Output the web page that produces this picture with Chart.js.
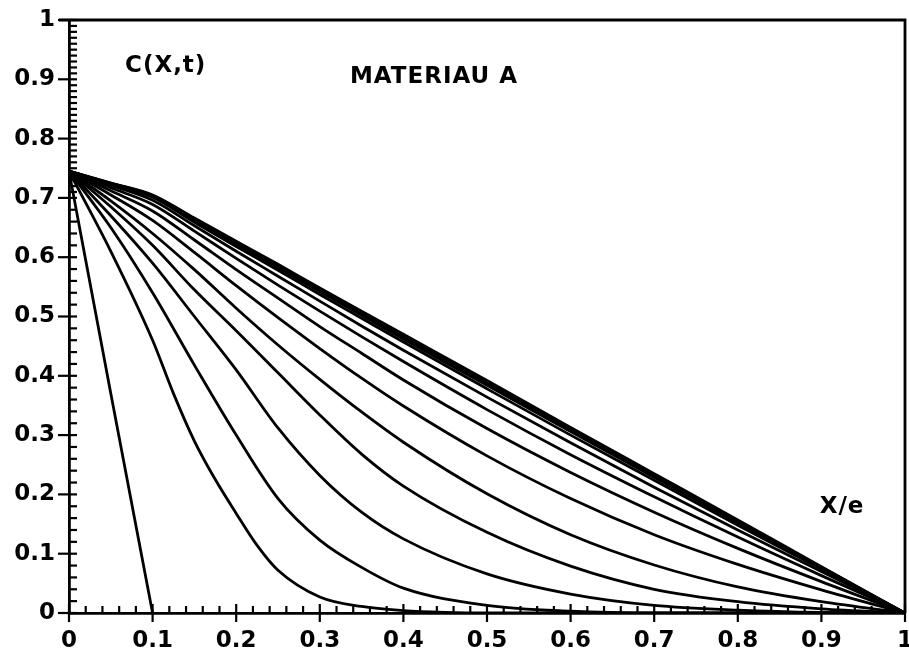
<!DOCTYPE html>
<html>
<head>
<meta charset="utf-8">
<script src="https://cdn.jsdelivr.net/npm/chart.js@4.4.0/dist/chart.umd.min.js"></script>
<style>
  html, body { margin: 0; padding: 0; background: #fff; }
</style>
</head>
<body>
<canvas id="diffChart" width="909" height="656"></canvas>
<script>
// profils C(X,t)
const xGrid = [0, 0.05, 0.1, 0.15, 0.2, 0.25, 0.3, 0.35, 0.4, 0.5, 0.6, 0.7, 0.8, 0.9, 1];
const xTickLabels = ['0', '0.1', '0.2', '0.3', '0.4', '0.5', '0.6', '0.7', '0.8', '0.9', '1'];
const yTickLabels = ['0', '0.1', '0.2', '0.3', '0.4', '0.5', '0.6', '0.7', '0.8', '0.9', '1'];

const curve1X = [0, 0.05, 0.1];
const curve1Y = [0.745, 0.37, 0];
const curve2X = [0, 0.05, 0.1, 0.125, 0.15, 0.175, 0.2, 0.225, 0.25, 0.3, 0.35, 0.4, 0.45, 0.5, 1];
const curve2Y = [0.745, 0.61, 0.46, 0.37, 0.29, 0.225, 0.168, 0.114, 0.072, 0.027, 0.011, 0.004, 0.001, 0, 0];

const curve3Y  = [0.745, 0.65, 0.54, 0.418, 0.30, 0.193, 0.123, 0.077, 0.042, 0.013, 0.003, 0, 0, 0, 0];
const curve4Y  = [0.745, 0.67, 0.59, 0.50, 0.41, 0.312, 0.232, 0.17, 0.125, 0.066, 0.032, 0.013, 0.005, 0.001, 0];
const curve5Y  = [0.745, 0.685, 0.62, 0.545, 0.476, 0.405, 0.334, 0.268, 0.214, 0.136, 0.079, 0.040, 0.019, 0.007, 0];
const curve6Y  = [0.745, 0.695, 0.64, 0.579, 0.514, 0.452, 0.394, 0.339, 0.288, 0.201, 0.132, 0.081, 0.044, 0.019, 0];
const curve7Y  = [0.745, 0.705, 0.662, 0.608, 0.552, 0.498, 0.446, 0.396, 0.349, 0.265, 0.193, 0.132, 0.082, 0.039, 0];
const curve8Y  = [0.745, 0.712, 0.678, 0.629, 0.579, 0.531, 0.483, 0.438, 0.393, 0.311, 0.237, 0.170, 0.109, 0.053, 0];
const curve9Y  = [0.745, 0.717, 0.689, 0.644, 0.598, 0.553, 0.509, 0.466, 0.424, 0.343, 0.267, 0.196, 0.128, 0.063, 0];
const curve10Y = [0.745, 0.721, 0.696, 0.653, 0.610, 0.568, 0.526, 0.484, 0.443, 0.364, 0.287, 0.212, 0.140, 0.070, 0];
const curve11Y = [0.745, 0.723, 0.701, 0.659, 0.618, 0.578, 0.537, 0.497, 0.457, 0.378, 0.300, 0.224, 0.148, 0.074, 0];
const curve12Y = [0.745, 0.724, 0.703, 0.662, 0.622, 0.582, 0.542, 0.502, 0.462, 0.384, 0.306, 0.229, 0.152, 0.076, 0];
const curve13Y = [0.745, 0.725, 0.704, 0.664, 0.624, 0.585, 0.545, 0.506, 0.466, 0.388, 0.309, 0.232, 0.154, 0.077, 0];
const curve14Y = [0.745, 0.725, 0.705, 0.666, 0.627, 0.588, 0.548, 0.509, 0.470, 0.392, 0.313, 0.235, 0.157, 0.078, 0];

const gridCurves = [curve3Y, curve4Y, curve5Y, curve6Y, curve7Y, curve8Y, curve9Y,
                    curve10Y, curve11Y, curve12Y, curve13Y, curve14Y];

const FONT = '"DejaVu Sans", "Liberation Sans", sans-serif';

function toPoints(xs, ys) {
    return xs.map((x, i) => ({ x: x, y: ys[i] }));
}

function lineSet(points) {
    return {
        data: points,
        borderColor: '#000',
        borderWidth: 2.8,
        pointRadius: 0,
        fill: false,
        cubicInterpolationMode: 'monotone'
    };
}

const datasets = [
    lineSet(toPoints(curve1X, curve1Y)),
    lineSet(toPoints(curve2X, curve2Y))
];
gridCurves.forEach(ys => datasets.push(lineSet(toPoints(xGrid, ys))));

// cadre, petites graduations et textes
const framePlugin = {
    id: 'framePlugin',
    afterDraw(chart) {
        const ctx = chart.ctx;
        const xs = chart.scales.x;
        const ys = chart.scales.y;
        const x0 = xs.getPixelForValue(0), x1 = xs.getPixelForValue(1);
        const y0 = ys.getPixelForValue(0), y1 = ys.getPixelForValue(1);
        ctx.save();
        ctx.strokeStyle = '#000';
        ctx.lineWidth = 2.8;
        ctx.beginPath();
        ctx.moveTo(x0 - 10, y1);
        ctx.lineTo(x1, y1);
        ctx.lineTo(x1, y0);
        ctx.stroke();

        ctx.lineWidth = 2.2;
        for (let i = 0; i <= 50; i++) {
            const px = xs.getPixelForValue(i / 50);
            const major = i % 5 === 0;
            ctx.beginPath();
            ctx.moveTo(px, y0 + (major ? 9 : 0));
            ctx.lineTo(px, y0 - (major ? 9 : 7));
            ctx.stroke();
        }
        for (let i = 0; i <= 100; i++) {
            if (i < 70 && i % 2) continue;
            const py = ys.getPixelForValue(i / 100);
            const major = i % 10 === 0;
            ctx.beginPath();
            ctx.moveTo(x0 - (major ? 11 : 0), py);
            ctx.lineTo(x0 + 8, py);
            ctx.stroke();
        }

        ctx.fillStyle = '#000';
        ctx.font = 'bold 23px ' + FONT;
        ctx.letterSpacing = '1px';
        ctx.textAlign = 'left';
        ctx.textBaseline = 'alphabetic';
        ctx.fillText('C(X,t)', xs.getPixelForValue(0.067), ys.getPixelForValue(0.912));
        ctx.fillText('MATERIAU A', xs.getPixelForValue(0.336), ys.getPixelForValue(0.894));
        ctx.fillText('X/e', xs.getPixelForValue(0.898), ys.getPixelForValue(0.169));
        ctx.restore();
    }
};

const config = {
    type: 'line',
    data: { datasets: datasets },
    options: {
        responsive: false,
        animation: false,
        layout: { padding: { top: 20, right: 4, left: 0, bottom: 0 } },
        plugins: {
            legend: { display: false },
            tooltip: { enabled: false }
        },
        scales: {
            x: {
                type: 'linear',
                min: 0,
                max: 1,
                grid: { display: false, drawTicks: false },
                border: { display: true, color: '#000', width: 2.8 },
                ticks: {
                    stepSize: 0.1,
                    padding: 14,
                    color: '#000',
                    maxRotation: 0,
                    autoSkip: false,
                    font: { family: FONT, weight: 'bold', size: 23 },
                    callback: (v, i) => xTickLabels[i]
                },
                afterFit: s => { s.height = 43; s.paddingLeft = 0; s.paddingRight = 0; }
            },
            y: {
                type: 'linear',
                min: 0,
                max: 1,
                grid: { display: false, drawTicks: false },
                border: { display: true, color: '#000', width: 2.8 },
                ticks: {
                    stepSize: 0.1,
                    padding: 14,
                    color: '#000',
                    autoSkip: false,
                    font: { family: FONT, weight: 'bold', size: 23 },
                    callback: (v, i) => yTickLabels[i]
                },
                afterFit: s => { s.width = 69; s.paddingTop = 0; s.paddingBottom = 0; }
            }
        }
    },
    plugins: [framePlugin]
};

const chartEl = document.querySelector('#diffChart');
if (chartEl) {
    new Chart(chartEl, config);
} else {
    console.error('Canvas element "diffChart" not found');
}
</script>
</body>
</html>
